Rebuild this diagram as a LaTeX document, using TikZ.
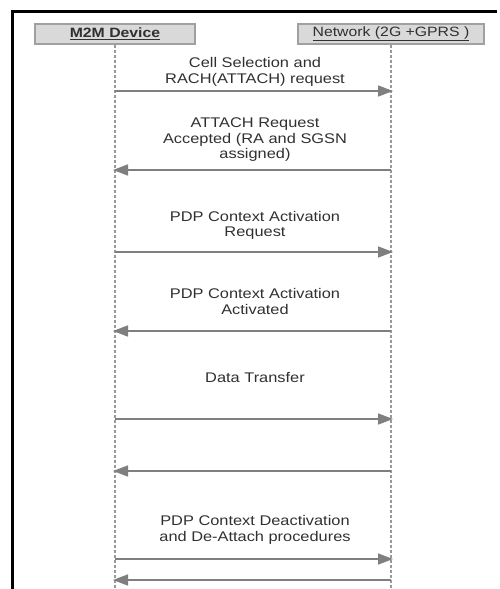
\documentclass[tikz,border=0pt]{standalone}
\usepackage{fontspec}
\setmainfont[FakeStretch=1.17]{Liberation Sans}
\usetikzlibrary{arrows.meta}

\definecolor{boxfill}{HTML}{D9D9D9}
\definecolor{boxline}{HTML}{A0A0A0}
\definecolor{msgline}{HTML}{7F7F7F}
\definecolor{msgtext}{HTML}{303030}

\tikzset{
  actor/.style={draw=boxline,line width=1.5pt,fill=boxfill,minimum height=20pt,
                inner sep=0pt,text=msgtext,font=\fontsize{13.5}{15}\selectfont},
  lifeline/.style={draw=msgline!80,line width=1.5pt,dash pattern=on 3pt off 2pt},
  msg/.style={draw=msgline,line width=1.5pt,
              -{Triangle[length=15pt,width=11pt,fill=msgline]}},
  msglabel/.style={align=center,text=msgtext,inner sep=0pt,
                   font=\fontsize{14}{15.5}\selectfont}
}

\begin{document}
\begin{tikzpicture}[x=1pt,y=-1pt]
  \useasboundingbox (0,0) rectangle (500,589);

  % Frame
  \draw[line width=3pt] (12,589) -- (12,11) -- (497,11);

  % Actors
  \node[actor,minimum width=160pt] (dev) at (115,34) {\underline{\textbf{M2M Device}}};
  \node[actor,minimum width=186pt] (net) at (391,34) {\underline{Network (2G +GPRS )}};

  % Lifelines
  \coordinate (devend) at (115,589);
  \coordinate (netend) at (391,589);
  \draw[lifeline] (dev.south) -- (devend);
  \draw[lifeline] (net.south) -- (netend);

  % Message points on the lifelines
  \foreach \n/\y in {1/91,2/170,3/252,4/331,5/419,6/471,7/559,8/580}{
    \coordinate (d\n) at (115,\y);
    \coordinate (n\n) at (393,\y);
    \coordinate (d\n') at (113,\y);
    \coordinate (n\n') at (391,\y);
  }

  % Messages
  \draw[msg] (d1) -- (n1);
  \draw[msg] (n2') -- (d2');
  \draw[msg] (d3) -- (n3);
  \draw[msg] (n4') -- (d4');
  \draw[msg] (d5) -- (n5);
  \draw[msg] (n6') -- (d6');
  \draw[msg] (d7) -- (n7);
  \draw[msg] (n8') -- (d8');

  % Labels
  \node[msglabel] (l1) at (255,72) {Cell Selection and\\RACH(ATTACH) request};
  \node[msglabel] (l2) at (255,140) {ATTACH Request\\Accepted (RA and SGSN\\assigned)};
  \node[msglabel] (l3) at (255,225.5) {PDP Context Activation\\Request};
  \node[msglabel] (l4) at (255,301.5) {PDP Context Activation\\Activated};
  \node[msglabel] (l5) at (255,377) {Data Transfer};
  \node[msglabel] (l7) at (255,530) {PDP Context Deactivation\\and De-Attach procedures};
\end{tikzpicture}
\end{document}
